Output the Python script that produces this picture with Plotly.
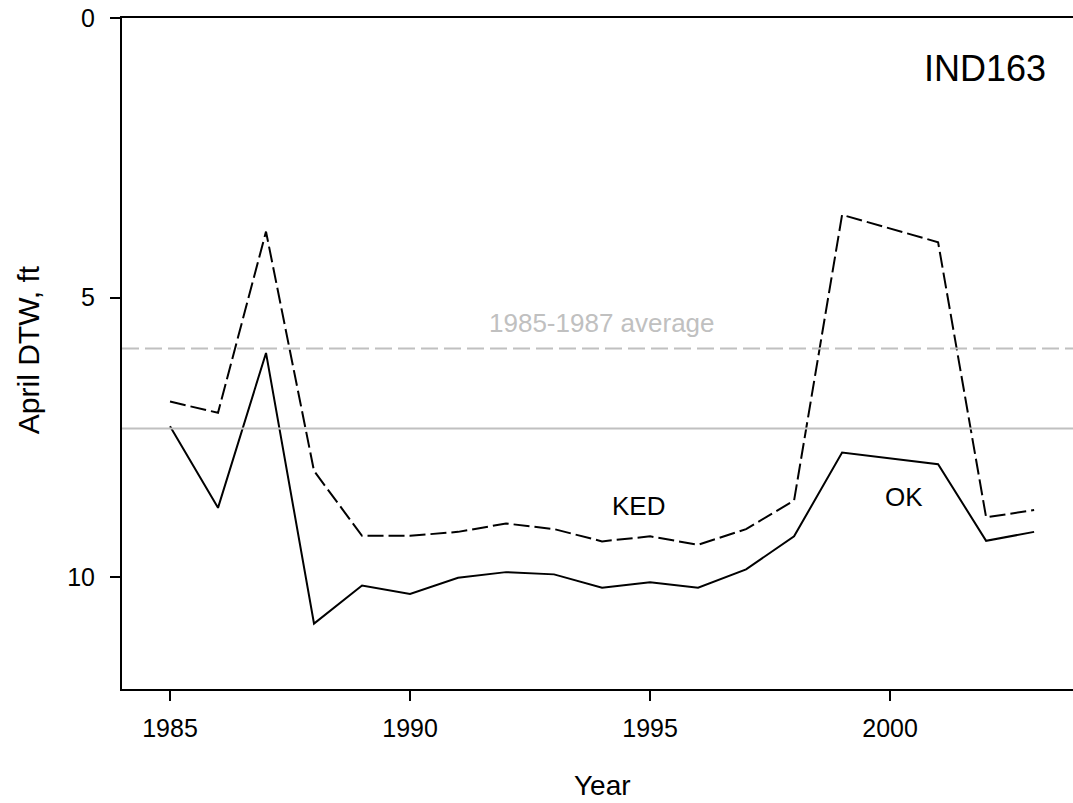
import plotly.graph_objects as go

years = list(range(1985, 2004))
ked = [6.86, 7.06, 3.82, 8.10, 9.26, 9.26, 9.19, 9.04, 9.14, 9.36, 9.27, 9.42, 9.14, 8.63, 3.52, 3.76, 4.01, 8.93, 8.80]
ok = [7.30, 8.76, 5.99, 10.83, 10.15, 10.30, 10.01, 9.91, 9.95, 10.19, 10.09, 10.19, 9.86, 9.27, 7.77, 7.87, 7.98, 9.35, 9.19]
avg_ked = 5.91
avg_ok = 7.34
y_ticks = [0, 5, 10]
x_ticks = [1985, 1990, 1995, 2000]

FONT = "Liberation Sans, Arial, sans-serif"

fig = go.Figure()
fig.add_hline(y=avg_ked, line=dict(color="#c0c0c0", width=2, dash="17px,6px"))
fig.add_hline(y=avg_ok, line=dict(color="#c0c0c0", width=2))
fig.add_trace(go.Scatter(x=years, y=ked, mode="lines", name="KED",
                         line=dict(color="black", width=2, dash="16px,5px")))
fig.add_trace(go.Scatter(x=years, y=ok, mode="lines", name="OK",
                         line=dict(color="black", width=2)))

fig.add_annotation(x=2001.98, y=0.91, text="IND163", showarrow=False,
                   font=dict(size=36, color="black", family=FONT))
fig.add_annotation(x=1994.75, y=8.73, text="KED", showarrow=False,
                   font=dict(size=26, color="black", family=FONT))
fig.add_annotation(x=2000.29, y=8.57, text="OK", showarrow=False,
                   font=dict(size=26, color="black", family=FONT))
fig.add_annotation(x=1994.0, y=5.45, text="1985-1987 average", showarrow=False,
                   font=dict(size=26, color="#c0c0c0", family=FONT))
fig.add_annotation(x=1994.0, y=0, xref="x", yref="paper", text="Year", showarrow=False,
                   yanchor="middle", yshift=-96,
                   font=dict(size=28, color="black", family=FONT))
fig.add_annotation(x=0, y=0.505, xref="paper", yref="paper", text="April DTW, ft",
                   showarrow=False, textangle=-90, xanchor="center", xshift=-94,
                   font=dict(size=30, color="black", family=FONT))

fig.update_layout(
    width=1073, height=803,
    margin=dict(l=122, r=0, t=18, b=114),
    plot_bgcolor="white", paper_bgcolor="white",
    showlegend=False,
    font=dict(family=FONT, size=25, color="black"),
    xaxis=dict(range=[1984, 2003.81], tickvals=x_ticks, ticks="outside", ticklen=10,
               tickwidth=2, tickcolor="black", showline=True, linecolor="black", linewidth=2,
               mirror=True, showgrid=False, zeroline=False,
               ticklabelstandoff=6, tickfont=dict(size=25)),
    yaxis=dict(range=[12, 0], tickvals=y_ticks, ticks="outside", ticklen=10,
               tickwidth=2, tickcolor="black", showline=True, linecolor="black", linewidth=2,
               showgrid=False, zeroline=False, ticklabelstandoff=10, tickfont=dict(size=25)),
)

fig.write_html("out.html", config={"displayModeBar": False},
               post_script="document.body.style.margin='0';document.body.style.overflow='hidden';")
